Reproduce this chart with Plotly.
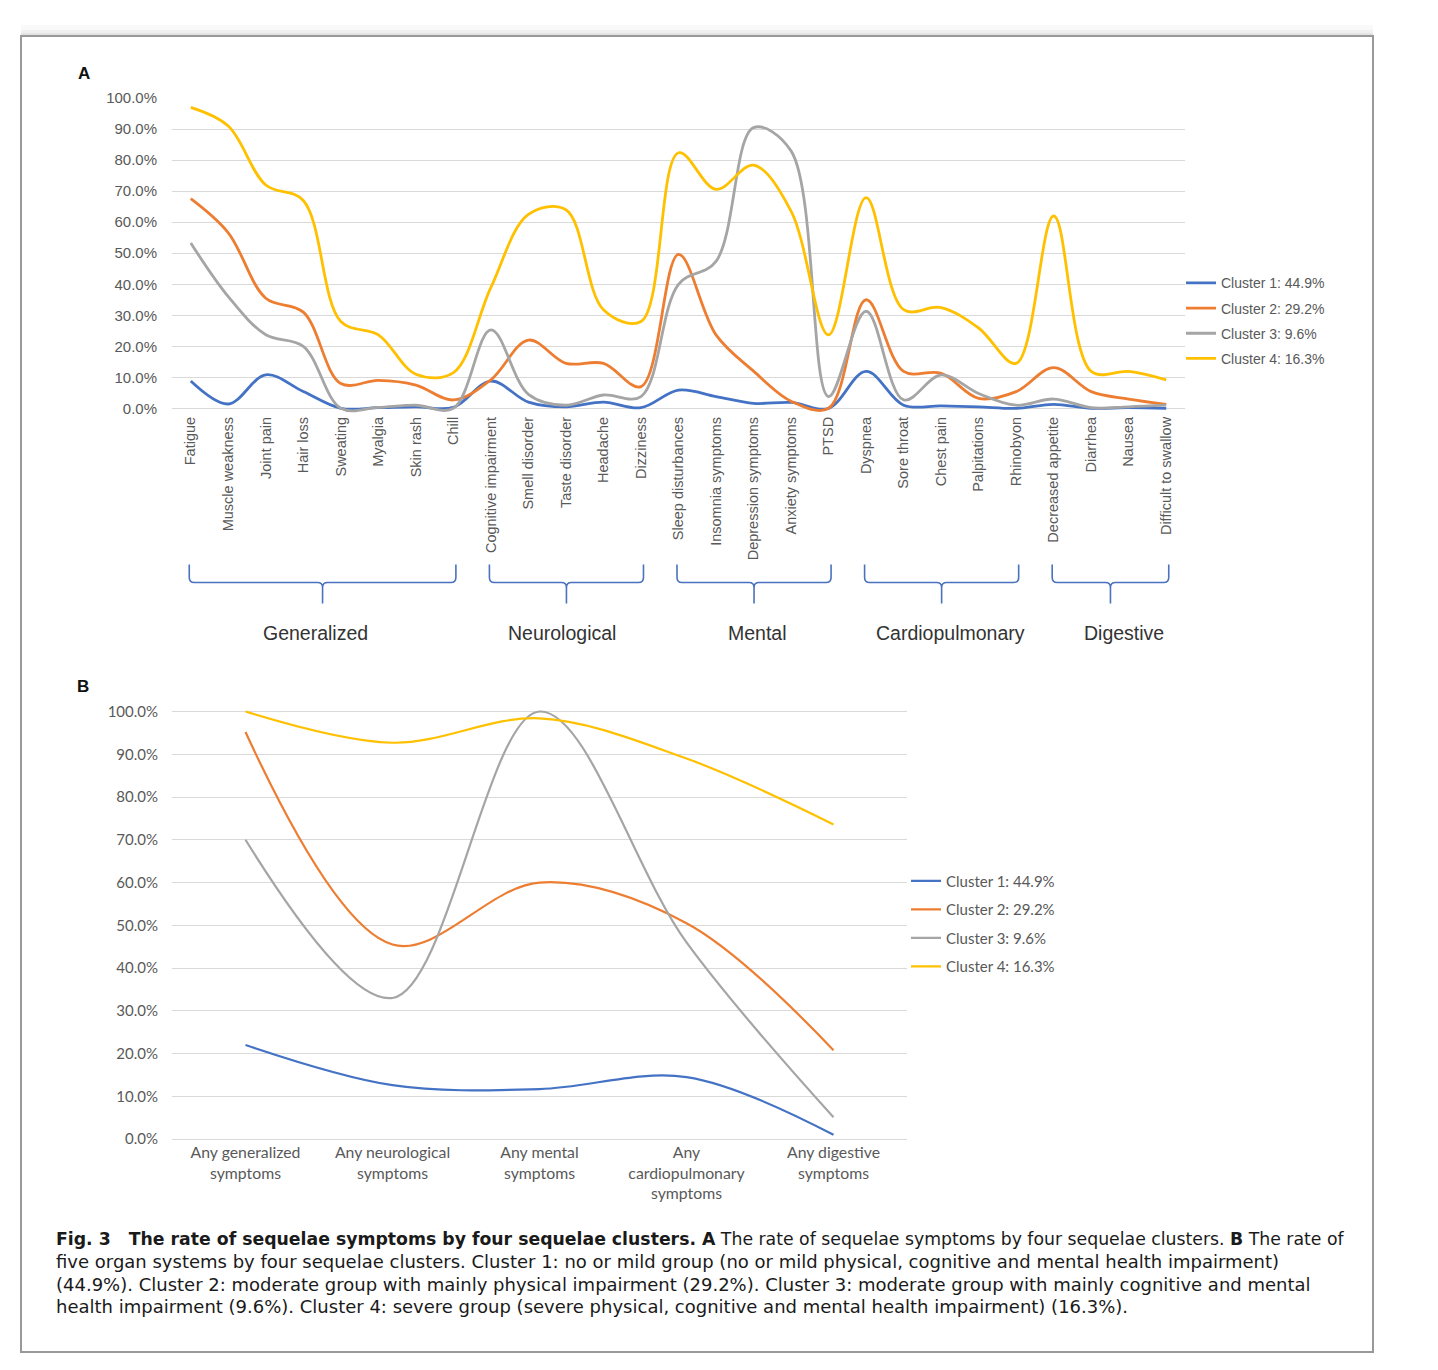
import plotly.graph_objects as go

W, H = 1438, 1370
FH = 1370
TOP_OFF = 8            # page offset above the plot div
S = (H + 16) / H       # capture covers page rows 0..H+16, shown in H rows


def px(x):
    return x / W


def py(y):
    # y: pixel row in the final picture -> paper fraction
    return 1 - (y * S - TOP_OFF) / FH


# ---------------- DATA ----------------
symptoms = ["Fatigue", "Muscle weakness", "Joint pain", "Hair loss", "Sweating", "Myalgia",
            "Skin rash", "Chill", "Cognitive impairment", "Smell disorder", "Taste disorder",
            "Headache", "Dizziness", "Sleep disturbances", "Insomnia symptoms",
            "Depression symptoms", "Anxiety symptoms", "PTSD", "Dyspnea", "Sore throat",
            "Chest pain", "Palpitations", "Rhinobyon", "Decreased appetite", "Diarrhea",
            "Nausea", "Difficult to swallow"]

cluster1_a = [8.8, 1.4, 10.8, 5.4, 0.0, 0.2, 0.5, 0.3, 8.8, 2.0, 0.5, 2.0, 0.2, 5.9, 3.8,
              1.6, 1.9, 0.0, 11.9, 1.0, 0.8, 0.5, 0.0, 1.3, 0.0, 0.2, 0.0]
cluster2_a = [67.6, 56.6, 35.5, 31.0, 8.0, 9.0, 7.5, 2.7, 9.2, 22.0, 14.5, 14.5, 7.0, 49.6,
              23.7, 12.0, 2.3, 0.0, 35.0, 11.9, 11.3, 3.2, 5.4, 13.1, 5.4, 3.0, 1.3]
cluster3_a = [53.3, 36.0, 23.7, 20.0, 0.0, 0.3, 1.0, 0.0, 25.3, 4.5, 1.0, 4.3, 3.8, 40.0,
              47.4, 90.5, 83.0, 3.8, 31.3, 2.7, 10.8, 4.8, 1.0, 3.0, 0.2, 0.5, 1.0]
cluster4_a = [97.0, 91.0, 72.0, 67.0, 28.0, 23.7, 11.0, 11.5, 39.0, 62.5, 64.0, 31.8, 28.0,
              82.4, 70.6, 78.4, 63.6, 23.7, 67.9, 31.8, 32.5, 25.9, 14.5, 62.0, 11.9, 11.9, 9.2]

groups = ["Generalized", "Neurological", "Mental", "Cardiopulmonary", "Digestive"]
group_first = [0, 8, 13, 18, 23]
group_last = [7, 12, 17, 22, 26]

systems = ["Any generalized<br>symptoms", "Any neurological<br>symptoms",
           "Any mental<br>symptoms", "Any<br>cardiopulmonary<br>symptoms",
           "Any digestive<br>symptoms"]
cluster1_b = [22.0, 12.6, 11.7, 14.5, 1.0]
cluster2_b = [95.2, 45.5, 60.0, 50.5, 20.8]
cluster3_b = [70.0, 33.0, 100.0, 46.0, 5.1]
cluster4_b = [100.0, 92.7, 98.4, 89.0, 73.6]

cluster_names = ["Cluster 1: 44.9%", "Cluster 2: 29.2%", "Cluster 3: 9.6%", "Cluster 4: 16.3%"]
colors = ["#4472C4", "#ED7D31", "#A5A5A5", "#FFC000"]

yticks = [i / 10 for i in range(11)]

caption_lines = [
    "<b>Fig. 3\u00a0\u00a0\u00a0The rate of sequelae symptoms by four sequelae clusters. A</b> The rate of sequelae symptoms by four sequelae clusters. <b>B</b> The rate of",
    "five organ systems by four sequelae clusters. Cluster 1: no or mild group (no or mild physical, cognitive and mental health impairment)",
    "(44.9%). Cluster 2: moderate group with mainly physical impairment (29.2%). Cluster 3: moderate group with mainly cognitive and mental",
    "health impairment (9.6%). Cluster 4: severe group (severe physical, cognitive and mental health impairment) (16.3%).",
]
caption_sizes = [17.3, 18.0, 18.0, 18.0]

# ---------------- FIGURE ----------------
fig = go.Figure()

ARIAL = "Liberation Sans, Arial, sans-serif"
CALIBRI = "Lato, Open Sans, sans-serif"
CAPTION = "DejaVu Sans, sans-serif"
TICKGRAY = "#595959"

series_a = [cluster1_a, cluster2_a, cluster3_a, cluster4_a]
series_b = [cluster1_b, cluster2_b, cluster3_b, cluster4_b]

for i, vals in enumerate(series_a):
    fig.add_trace(go.Scatter(
        x=symptoms, y=[v / 100 for v in vals], mode="lines", name=cluster_names[i],
        line=dict(color=colors[i], width=2.8, shape="spline", smoothing=1.0),
        xaxis="x", yaxis="y", legend="legend", legendgroup="a%d" % i,
    ))

for i, vals in enumerate(series_b):
    fig.add_trace(go.Scatter(
        x=systems, y=[v / 100 for v in vals], mode="lines", name=cluster_names[i],
        line=dict(color=colors[i], width=2.2, shape="spline", smoothing=1.0),
        xaxis="x2", yaxis="y2", legend="legend2", legendgroup="b%d" % i,
    ))

# Panel geometry (reference pixel coordinates)
A_left, A_right = 172, 1185
A_y0, A_y100 = 407, 97
A_unit = A_y0 - A_y100
A_lo = -0.015
B_left, B_right = 172, 907
B_y0, B_y100 = 1137.3, 710
B_unit = B_y0 - B_y100
B_lo, B_hi = -0.005, 1.01

fig.update_layout(
    width=W, height=FH, margin=dict(l=0, r=0, t=0, b=0),
    paper_bgcolor="white", plot_bgcolor="white",
    xaxis=dict(domain=[px(A_left), px(A_right)], anchor="y", type="category",
               categoryorder="array", categoryarray=symptoms,
               range=[-0.5, len(symptoms) - 0.5], tickangle=-90, showgrid=False,
               showline=False, zeroline=False, ticks="",
               tickfont=dict(family=ARIAL, size=14.5, color=TICKGRAY)),
    yaxis=dict(domain=[py(A_y0 - A_lo * A_unit), py(A_y100)], anchor="x",
               range=[A_lo, 1.0], tickvals=yticks, tickformat=".1%",
               gridcolor="#d9d9d9", gridwidth=1, zeroline=False, showline=False,
               ticks="", ticklabelstandoff=14,
               tickfont=dict(family=ARIAL, size=15, color=TICKGRAY)),
    xaxis2=dict(domain=[px(B_left), px(B_right)], anchor="y2", type="category",
                categoryorder="array", categoryarray=systems,
                range=[-0.5, len(systems) - 0.5], tickangle=0, showgrid=False,
                showline=False, zeroline=False, ticks="",
                tickfont=dict(family=CALIBRI, size=15.8, color=TICKGRAY)),
    yaxis2=dict(domain=[py(B_y0 - B_lo * B_unit), py(B_y100 - (B_hi - 1) * B_unit)],
                anchor="x2", range=[B_lo, B_hi], tickvals=yticks, tickformat=".1%",
                gridcolor="#d9d9d9", gridwidth=1, zeroline=False, showline=False,
                ticks="", ticklabelstandoff=13,
                tickfont=dict(family=CALIBRI, size=15, color=TICKGRAY)),
    legend=dict(x=px(1181), y=py(266), xanchor="left", yanchor="top",
                bgcolor="rgba(0,0,0,0)", itemwidth=30, tracegroupgap=4,
                font=dict(family=ARIAL, size=14, color=TICKGRAY)),
    legend2=dict(x=px(906), y=py(863), xanchor="left", yanchor="top",
                 bgcolor="rgba(0,0,0,0)", itemwidth=30, tracegroupgap=6,
                 font=dict(family=CALIBRI, size=15, color=TICKGRAY)),
    showlegend=True,
)

shapes = []
# frame shadow and border
for y0, op in [(24, 0.025), (29, 0.035), (32, 0.05), (34, 0.08)]:
    shapes.append(dict(type="rect", xref="paper", yref="paper",
                       x0=px(21), x1=px(1373), y0=py(35), y1=py(y0),
                       fillcolor="rgba(0,0,0,%s)" % op, line=dict(width=0), layer="below"))
shapes.append(dict(type="rect", xref="paper", yref="paper",
                   x0=px(21), x1=px(1373), y0=py(1350), y1=py(35),
                   line=dict(color="#999999", width=2), fillcolor="rgba(0,0,0,0)"))

# brackets for symptom groups
step = (A_right - A_left) / len(symptoms)


def cat_px(i):
    return A_left + (i + 0.5) * step


group_label_x = [315, 562, 757, 951, 1124]

annotations = []
for g, f, l, lx in zip(groups, group_first, group_last, group_label_x):
    xl, xr = cat_px(f) - 1.5, cat_px(l) + 2.5
    xc = (xl + xr) / 2
    yt, yh, yb = 563, 581, 602
    r = 5
    pts = [
        "M %f,%f" % (px(xl), py(yt)),
        "L %f,%f" % (px(xl), py(yh - r)),
        "Q %f,%f %f,%f" % (px(xl), py(yh), px(xl + r), py(yh)),
        "L %f,%f" % (px(xc - r), py(yh)),
        "Q %f,%f %f,%f" % (px(xc), py(yh), px(xc), py(yh + r)),
        "L %f,%f" % (px(xc), py(yb)),
        "M %f,%f" % (px(xc), py(yh + r)),
        "Q %f,%f %f,%f" % (px(xc), py(yh), px(xc + r), py(yh)),
        "L %f,%f" % (px(xr - r), py(yh)),
        "Q %f,%f %f,%f" % (px(xr), py(yh), px(xr), py(yh - r)),
        "L %f,%f" % (px(xr), py(yt)),
    ]
    shapes.append(dict(type="path", xref="paper", yref="paper", path=" ".join(pts),
                       line=dict(color="#4A72BE", width=1.6)))
    annotations.append(dict(x=px(lx), y=py(632), xref="paper", yref="paper", text=g,
                            showarrow=False, xanchor="center", yanchor="middle",
                            font=dict(family=ARIAL, size=19.5, color="#333333")))

annotations.append(dict(x=px(76), y=py(72), xref="paper", yref="paper", text="<b>A</b>",
                        showarrow=False, xanchor="left", yanchor="middle",
                        font=dict(family=ARIAL, size=17, color="#111111")))
annotations.append(dict(x=px(75), y=py(685), xref="paper", yref="paper", text="<b>B</b>",
                        showarrow=False, xanchor="left", yanchor="middle",
                        font=dict(family=ARIAL, size=17, color="#111111")))

for k, (line, fs) in enumerate(zip(caption_lines, caption_sizes)):
    annotations.append(dict(x=px(54), y=py(1237 + k * 22.7), xref="paper", yref="paper",
                            text=line, showarrow=False, xanchor="left", yanchor="middle",
                            font=dict(family=CAPTION, size=fs, color="#1a1a1a")))

fig.update_layout(shapes=shapes, annotations=annotations)

fig.write_html("out.html", config={"displayModeBar": False},
               post_script="document.body.style.margin='0';document.body.style.overflow='hidden';")
